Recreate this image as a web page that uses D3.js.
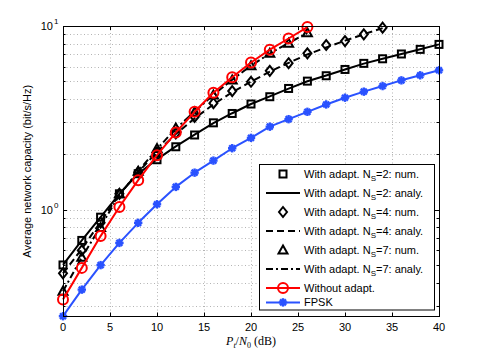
<!DOCTYPE html>
<html lang="en">
  <head>
    <meta charset="utf-8" />
    <title>Average network capacity</title>
    <script src="https://cdn.jsdelivr.net/npm/d3@7"></script>
    <style>
      body { margin: 0; background: #fff; }
      text { font-family: "Liberation Sans", Arial, sans-serif; }
    </style>
  </head>
  <body>
    <script>
      // SNR points (dB)
      var snr40 = [0, 2, 4, 6, 8, 10, 12, 14, 16, 18, 20, 22, 24, 26, 28, 30, 32, 34, 36, 38, 40];
      var snr34 = [0, 2, 4, 6, 8, 10, 12, 14, 16, 18, 20, 22, 24, 26, 28, 30, 32, 34];
      var snr26 = [0, 2, 4, 6, 8, 10, 12, 14, 16, 18, 20, 22, 24, 26];

      var ns2Num   = [0.50, 0.68, 0.91, 1.22, 1.57, 1.87, 2.20, 2.55, 2.97, 3.34, 3.76, 4.12, 4.57, 5.01, 5.36, 5.80, 6.26, 6.63, 7.04, 7.46, 7.94];
      var ns2Analy = [0.50, 0.68, 0.91, 1.22, 1.57, 1.88, 2.21, 2.56, 2.96, 3.35, 3.76, 4.14, 4.56, 5.00, 5.38, 5.80, 6.24, 6.64, 7.04, 7.47, 7.94];
      var ns4Num   = [0.45, 0.60, 0.85, 1.22, 1.60, 2.05, 2.60, 3.20, 3.80, 4.42, 4.97, 5.70, 6.27, 7.10, 7.88, 8.28, 9.01, 9.79];
      var ns4Analy = [0.45, 0.61, 0.86, 1.21, 1.60, 2.06, 2.58, 3.14, 3.74, 4.36, 4.98, 5.64, 6.30, 7.00, 7.64, 8.32, 9.02, 9.74];
      var ns7Num   = [0.36, 0.55, 0.80, 1.22, 1.62, 2.15, 2.78, 3.40, 4.21, 5.08, 6.08, 7.10, 8.05, 9.20];
      var ns7Analy = [0.36, 0.55, 0.81, 1.20, 1.62, 2.14, 2.76, 3.42, 4.22, 5.10, 6.08, 7.08, 8.08, 9.15];
      var noAdapt  = [0.324, 0.482, 0.718, 1.035, 1.448, 1.98, 2.63, 3.41, 4.33, 5.26, 6.33, 7.43, 8.55, 9.87];
      var fpsk     = [0.263, 0.367, 0.499, 0.659, 0.848, 1.07, 1.33, 1.59, 1.85, 2.16, 2.46, 2.83, 3.11, 3.41, 3.74, 4.07, 4.39, 4.71, 5.06, 5.39, 5.74];

      var xTicks = [0, 5, 10, 15, 20, 25, 30, 35, 40];
      var yMinor = [0.3, 0.4, 0.5, 0.6, 0.7, 0.8, 0.9, 2, 3, 4, 5, 6, 7, 8, 9];

      var W = 485, H = 357;
      var svg = d3.select("body").append("svg").attr("width", W).attr("height", H);

      var pL = 63, pR = 439, pT = 26, pB = 316.5;
      var x = d3.scaleLinear().domain([0, 40]).range([pL, pR]);
      var y = d3.scaleLog().domain([0.262, 10]).range([pB, pT]);

      // grid
      var grid = svg.append("g").attr("stroke", "#b4b4b4").attr("stroke-width", 1).attr("stroke-dasharray", "1,2.5");
      grid.selectAll(".gx").data(xTicks.slice(1, -1)).enter().append("line")
        .attr("x1", function (d) { return Math.round(x(d)) + 0.5; })
        .attr("x2", function (d) { return Math.round(x(d)) + 0.5; })
        .attr("y1", pT).attr("y2", pB);
      grid.selectAll(".gy").data(yMinor.concat([1])).enter().append("line")
        .attr("y1", function (d) { return Math.round(y(d)) + 0.5; })
        .attr("y2", function (d) { return Math.round(y(d)) + 0.5; })
        .attr("x1", pL).attr("x2", pR);

      // ticks (inward, all four sides)
      var ticks = svg.append("g").attr("stroke", "#000").attr("stroke-width", 1);
      xTicks.forEach(function (t) {
        var px = Math.round(x(t)) + 0.5;
        ticks.append("line").attr("x1", px).attr("x2", px).attr("y1", pB).attr("y2", pB - 4);
        ticks.append("line").attr("x1", px).attr("x2", px).attr("y1", pT).attr("y2", pT + 4);
      });
      yMinor.concat([1]).forEach(function (t) {
        var py = Math.round(y(t)) + 0.5;
        var len = t === 1 ? 4 : 2.5;
        ticks.append("line").attr("x1", pL).attr("x2", pL + len).attr("y1", py).attr("y2", py);
        ticks.append("line").attr("x1", pR).attr("x2", pR - len).attr("y1", py).attr("y2", py);
      });

      // tick labels
      svg.append("g").selectAll("text").data(xTicks).enter().append("text")
        .attr("x", function (d) { return x(d); })
        .attr("y", 331)
        .attr("text-anchor", "middle")
        .attr("font-size", 11)
        .text(function (d) { return d; });

      [[1, "0"], [10, "1"]].forEach(function (p) {
        svg.append("text").attr("x", 53).attr("y", y(p[0]) + 4)
          .attr("text-anchor", "end").attr("font-size", 11).text("10");
        svg.append("text").attr("x", 54).attr("y", y(p[0]) - 2)
          .attr("font-size", 8).text(p[1]);
      });

      // axis labels
      svg.append("text")
        .attr("transform", "translate(31," + (pT + pB) / 2 + ") rotate(-90)")
        .attr("text-anchor", "middle")
        .attr("font-size", 11)
        .text("Average network capacity (bit/s/Hz)");

      var xl = svg.append("text").attr("x", 251).attr("y", 345).attr("text-anchor", "middle")
        .attr("font-size", 12).style("font-family", "'Liberation Serif', 'DejaVu Serif', serif");
      xl.append("tspan").attr("font-style", "italic").text("P");
      xl.append("tspan").attr("font-style", "italic").attr("font-size", 8).attr("dy", 3).text("t");
      xl.append("tspan").attr("dy", -3).text("/");
      xl.append("tspan").attr("font-style", "italic").text("N");
      xl.append("tspan").attr("font-size", 8).attr("dy", 3).text("0");
      xl.append("tspan").attr("dy", -3).text(" (dB)");

      // markers
      function drawMarker(g, type, cx, cy, color) {
        if (type === "square") {
          g.append("rect").attr("x", cx - 3.5).attr("y", cy - 3.5).attr("width", 7).attr("height", 7)
            .attr("fill", "none").attr("stroke", color).attr("stroke-width", 2);
        } else if (type === "diamond") {
          g.append("path").attr("d", "M" + cx + "," + (cy - 5) + "L" + (cx + 4) + "," + cy + "L" + cx + "," + (cy + 5) + "L" + (cx - 4) + "," + cy + "Z")
            .attr("fill", "none").attr("stroke", color).attr("stroke-width", 2);
        } else if (type === "triangle") {
          g.append("path").attr("d", "M" + cx + "," + (cy - 4.5) + "L" + (cx + 4.5) + "," + (cy + 3.5) + "L" + (cx - 4.5) + "," + (cy + 3.5) + "Z")
            .attr("fill", "none").attr("stroke", color).attr("stroke-width", 2);
        } else if (type === "circle") {
          g.append("circle").attr("cx", cx).attr("cy", cy).attr("r", 5)
            .attr("fill", "none").attr("stroke", color).attr("stroke-width", 2);
        } else if (type === "star") {
          var r = 4.2;
          [0, 45, 90, 135].forEach(function (a) {
            var dx = r * Math.cos(a * Math.PI / 180), dy = r * Math.sin(a * Math.PI / 180);
            g.append("line").attr("x1", cx - dx).attr("y1", cy - dy).attr("x2", cx + dx).attr("y2", cy + dy)
              .attr("stroke", color).attr("stroke-width", 2.4);
          });
          g.append("circle").attr("cx", cx).attr("cy", cy).attr("r", 2.5).attr("fill", color);
        }
      }

      var series = [
        { label: "2: num.", ns: true, xs: snr40, ys: ns2Num, color: "#000", dash: null, marker: "square", line: false },
        { label: "2: analy.", ns: true, xs: snr40, ys: ns2Analy, color: "#000", dash: "none", marker: null, line: true },
        { label: "4: num.", ns: true, xs: snr34, ys: ns4Num, color: "#000", dash: null, marker: "diamond", line: false },
        { label: "4: analy.", ns: true, xs: snr34, ys: ns4Analy, color: "#000", dash: "7,4", marker: null, line: true },
        { label: "7: num.", ns: true, xs: snr26, ys: ns7Num, color: "#000", dash: null, marker: "triangle", line: false },
        { label: "7: analy.", ns: true, xs: snr26, ys: ns7Analy, color: "#000", dash: "7,3,2,3", marker: null, line: true },
        { label: "Without adapt.", ns: false, xs: snr26, ys: noAdapt, color: "#ff0000", dash: "none", marker: "circle", line: true },
        { label: "FPSK", ns: false, xs: snr40, ys: fpsk, color: "#2a52ff", dash: "none", marker: "star", line: true }
      ];

      var plot = svg.append("g");
      var line = d3.line().x(function (d) { return x(d[0]); }).y(function (d) { return y(d[1]); });

      // draw black series first, then red, then blue
      var order = [1, 3, 5, 0, 2, 4, 6, 7];
      order.forEach(function (i) {
        var s = series[i];
        var pts = s.xs.map(function (v, k) { return [v, s.ys[k]]; });
        var g = plot.append("g");
        if (s.line) {
          g.append("path").datum(pts).attr("d", line)
            .attr("fill", "none").attr("stroke", s.color).attr("stroke-width", 2)
            .attr("stroke-dasharray", s.dash === "none" ? null : s.dash)
            .attr("stroke-linejoin", "round");
        }
        if (s.marker) {
          pts.forEach(function (p) { drawMarker(g, s.marker, x(p[0]), y(p[1]), s.color); });
        }
      });

      // frame
      svg.append("rect").attr("x", pL + 0.5).attr("y", pT + 0.5)
        .attr("width", pR - pL).attr("height", pB - pT - 0.5)
        .attr("fill", "none").attr("stroke", "#000").attr("stroke-width", 1);

      // legend
      var lx = 259.5, ly = 164.5, lw = 175, lh = 145.5;
      var lg = svg.append("g");
      lg.append("rect").attr("x", lx).attr("y", ly).attr("width", lw).attr("height", lh)
        .attr("fill", "#fff").attr("stroke", "#000").attr("stroke-width", 1);
      var rowY = ly + 1.5;
      series.forEach(function (s) {
        var cy = rowY + 8;
        if (s.line) {
          lg.append("line").attr("x1", 266).attr("x2", 300).attr("y1", cy).attr("y2", cy)
            .attr("stroke", s.color).attr("stroke-width", 2)
            .attr("stroke-dasharray", s.dash === "none" ? null : s.dash);
        }
        if (s.marker) drawMarker(lg, s.marker, 283, cy, s.color);
        var t = lg.append("text").attr("x", 304).attr("y", cy + 4).attr("font-size", 11);
        if (s.ns) {
          t.append("tspan").text("With adapt. N");
          t.append("tspan").attr("font-size", 8).attr("dy", 3).text("S");
          t.append("tspan").attr("dy", -3).text("=" + s.label);
          rowY += 19;
        } else {
          t.text(s.label);
          rowY += 14.4;
        }
      });
    </script>
  </body>
</html>
